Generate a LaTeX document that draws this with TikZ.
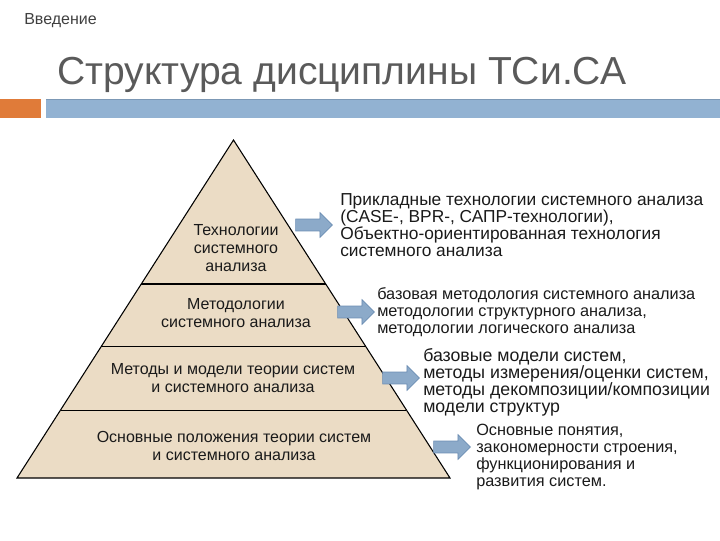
\documentclass[tikz,border=0pt]{standalone}
\usepackage{fontspec}
\setmainfont{Liberation Sans}
\usetikzlibrary{calc, positioning, shapes.arrows}

\definecolor{pyrfill}{HTML}{EBDCC5}
\definecolor{arrfill}{HTML}{8CAAC9}
\definecolor{arrdraw}{HTML}{6C8DB3}
\definecolor{barblue}{HTML}{92B2D2}
\definecolor{bartop}{HTML}{7C98B5}
\definecolor{barorange}{HTML}{E07B39}
\definecolor{titlegray}{HTML}{5A5A5A}
\definecolor{textdark}{HTML}{1A1A1A}

\begin{document}
\begin{tikzpicture}[
    x=0.75pt, y=-0.75pt,
    layer/.style={align=center, text=textdark, inner sep=0pt,
                  font=\fontsize{12}{13.5}\selectfont},
    desc/.style={align=left, anchor=west, text=textdark, inner sep=0pt,
                 font=\fontsize{13}{12.75}\selectfont},
    blockarrow/.style={single arrow, fill=arrfill, draw=arrdraw, line width=0.5pt,
                       inner xsep=0pt, inner ysep=4.2pt, minimum height=27.5pt,
                       single arrow head extend=4.8pt}
]
\useasboundingbox (0,0) rectangle (720,540);

% Header
\node[anchor=base west, inner sep=0pt, text=black!75,
      font=\fontsize{12}{14}\selectfont] (section) at (24,24) {Введение};
\node[anchor=base west, inner sep=0pt, text=titlegray,
      font=\fontsize{29.3}{35}\selectfont] (title) at (57,84) {Структура дисциплины ТСи.СА};
\fill[barorange] (0,99) rectangle (41,118);
\fill[barblue] (46,99) rectangle (720,118);
\draw[bartop, line width=1pt] (46,99.5) -- (720,99.5);

% Pyramid
\coordinate (apex) at (233.5,140);
\coordinate (baseL) at (17,478);
\coordinate (baseR) at (450,478);
\filldraw[fill=pyrfill, draw=black, line width=0.8pt] (apex) -- (baseR) -- (baseL) -- cycle;
\foreach \t in {0.426, 0.612, 0.799}
    \draw[line width=0.8pt] ($(apex)!\t!(baseL)$) -- ($(apex)!\t!(baseR)$);

% Layers
\node[layer] (tech) at (236,248) {Технологии\\системного\\анализа};
\node[layer] (metod) at (236,313) {Методологии\\системного анализа};
\node[layer] (models) at (233,378) {Методы и модели теории систем\\и системного анализа};
\node[layer] (osnovy) at (234,446) {Основные положения теории систем\\и системного анализа};

% Descriptions
\node[desc] (techdesc) at (340,225) {Прикладные технологии системного анализа\\(CASE-, BPR-, САПР-технологии),\\Объектно-ориентированная технология\\системного анализа};
\node[desc, font=\fontsize{12.2}{12.75}\selectfont] (metoddesc) at (377,312) {базовая методология системного анализа\\методологии структурного анализа,\\методологии логического анализа};
\node[desc, font=\fontsize{13.3}{12.75}\selectfont] (modelsdesc) at (423,382) {базовые модели систем,\\методы измерения/оценки  систем,\\методы декомпозиции/композиции\\модели структур};
\node[desc, font=\fontsize{12.2}{12.75}\selectfont] (osnovydesc) at (476,456.5) {Основные понятия,\\закономерности строения,\\функционирования и\\развития систем.};

% Arrows
\node[blockarrow] (arr1) at (311,225) {};
\node[blockarrow] (arr2) at (353,312) {};
\node[blockarrow] (arr3) at (398,378) {};
\node[blockarrow] (arr4) at (449,447) {};

\end{tikzpicture}
\end{document}
